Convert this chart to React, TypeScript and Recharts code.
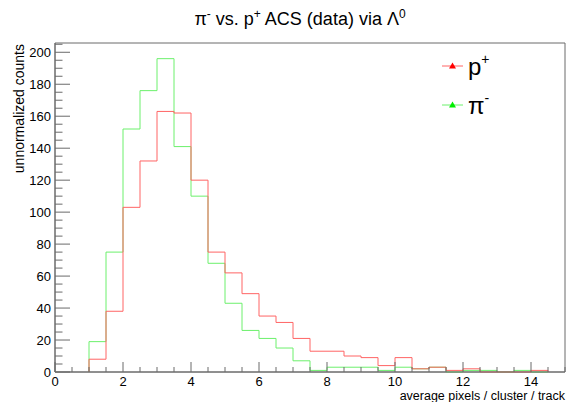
import { LineChart, Line, XAxis, YAxis, ReferenceArea } from 'recharts';

// lower edges of the 0.5-wide bins
const binLow = [1, 1.5, 2, 2.5, 3, 3.5, 4, 4.5, 5, 5.5, 6, 6.5, 7, 7.5, 8, 8.5, 9, 9.5, 10, 10.5, 11, 11.5, 12, 12.5, 13, 13.5, 14];
const BIN_WIDTH = 0.5;

const protonCounts = [8, 38, 103, 132, 163, 162, 120, 75, 62, 49, 35, 31, 21, 13, 13, 10, 9, 4, 9, 2, 3, 1, 2, 0, 0, 0, 1];
const pionCounts = [19, 75, 152, 176, 196, 141, 110, 68, 43, 26, 21, 15, 7, 1, 3, 3, 3, 1, 3, 2, 3, 0, 1, 1, 0, 1, 0];

const xTicks = [0, 0.5, 1, 1.5, 2, 2.5, 3, 3.5, 4, 4.5, 5, 5.5, 6, 6.5, 7, 7.5, 8, 8.5, 9, 9.5, 10, 10.5, 11, 11.5, 12, 12.5, 13, 13.5, 14, 14.5, 15];
const yTicks = [0, 5, 10, 15, 20, 25, 30, 35, 40, 45, 50, 55, 60, 65, 70, 75, 80, 85, 90, 95, 100, 105, 110, 115, 120, 125, 130, 135, 140, 145, 150, 155, 160, 165, 170, 175, 180, 185, 190, 195, 200, 205];
const X_MAX = 15;
const Y_MAX = 205.8;

const FONT = '"Liberation Sans", Arial, Helvetica, sans-serif';
const AXIS_COLOR = '#6a6a6a';

const series = [
    { key: 'pi', label: 'π', sup: '-', line: '#6cf06c', marker: '#00ee00' },
    { key: 'p', label: 'p', sup: '+', line: '#ff6464', marker: '#ff0000' },
];

// histogram outline: start at 0 on the low edge, close back to 0 after last bin
const last = binLow.length - 1;
const rows = [
    { x: binLow[0], p: 0, pi: 0 },
    ...binLow.map((x, i) => ({ x, p: protonCounts[i], pi: pionCounts[i] })),
    { x: binLow[last] + BIN_WIDTH, p: protonCounts[last], pi: pionCounts[last] },
    { x: binLow[last] + BIN_WIDTH, p: 0, pi: 0 },
];

const YTick = (props: any) => {
    const { x, y, payload } = props;
    const v = payload.value;
    const major = v % 20 === 0;
    return (
        <g>
            <line x1={x} y1={y} x2={x + (major ? 15 : 7.5)} y2={y} stroke={AXIS_COLOR} />
            {major && (
                <text x={x - 4} y={y} dy={4.7} textAnchor="end" fontSize={13} fill="#000" fontFamily={FONT}>
                    {v}
                </text>
            )}
        </g>
    );
};

const XTick = (props: any) => {
    const { x, y, payload } = props;
    const v = payload.value;
    const major = v % 2 === 0;
    return (
        <g>
            <line x1={x} y1={y} x2={x} y2={y - (major ? 10 : 5)} stroke={AXIS_COLOR} />
            {major && (
                <text x={x} y={y + 13.5} textAnchor="middle" fontSize={13} fill="#000" fontFamily={FONT}>
                    {v}
                </text>
            )}
        </g>
    );
};

export default function App() {
    const legendOrder = [series[1], series[0]];
    return (
        <div style={{ position: 'absolute', left: 0, top: 0, width: 567, height: 402, background: '#fff', fontFamily: FONT }}>
            <LineChart width={567} height={402} data={rows} margin={{ top: 43, right: 2, left: 0, bottom: 0 }}>
                <XAxis
                    dataKey="x"
                    type="number"
                    domain={[0, X_MAX]}
                    ticks={xTicks}
                    interval={0}
                    height={30}
                    tickSize={0}
                    tickMargin={0}
                    tickLine={false}
                    axisLine={{ stroke: AXIS_COLOR }}
                    tick={XTick}
                />
                <YAxis
                    type="number"
                    domain={[0, Y_MAX]}
                    ticks={yTicks}
                    interval={0}
                    width={55}
                    tickSize={0}
                    tickMargin={0}
                    tickLine={false}
                    axisLine={{ stroke: AXIS_COLOR }}
                    tick={YTick}
                />
                <ReferenceArea x1={0} x2={X_MAX} y1={0} y2={Y_MAX} fill="none" stroke={AXIS_COLOR} ifOverflow="visible" />
                {series.map((s) => (
                    <Line
                        key={s.key}
                        dataKey={s.key}
                        type="stepAfter"
                        stroke={s.line}
                        strokeWidth={1}
                        dot={false}
                        activeDot={false}
                        isAnimationActive={false}
                    />
                ))}
            </LineChart>
            <svg width={567} height={402} style={{ position: 'absolute', left: 0, top: 0, pointerEvents: 'none' }} fontFamily={FONT}>
                <text x={300} y={25} textAnchor="middle" fontSize={18} fill="#000">
                    π<tspan dy={-7} fontSize={12}>-</tspan>
                    <tspan dy={7}> vs. p</tspan>
                    <tspan dy={-7} fontSize={12}>+</tspan>
                    <tspan dy={7}> ACS (data) via Λ</tspan>
                    <tspan dy={-7} fontSize={12}>0</tspan>
                </text>
                <text x={24} y={44} transform="rotate(-90 24 44)" textAnchor="end" fontSize={14} fill="#000">
                    unnormalized counts
                </text>
                <text x={565} y={399.5} textAnchor="end" fontSize={12.5} fill="#000">
                    average pixels / cluster / track
                </text>
                {legendOrder.map((s, i) => {
                    const cy = 66 + i * 39;
                    return (
                        <g key={s.key}>
                            <line x1={442} y1={cy} x2={463} y2={cy} stroke={s.line} />
                            <path d={`M ${452.5 - 3.5} ${cy + 2.5} L ${452.5 + 3.5} ${cy + 2.5} L 452.5 ${cy - 3.5} Z`} fill={s.marker} />
                            <text x={468} y={cy + 9} fontSize={24} fill="#000">
                                {s.label}
                                <tspan dy={-11} fontSize={14}>{s.sup}</tspan>
                            </text>
                        </g>
                    );
                })}
            </svg>
        </div>
    );
}
